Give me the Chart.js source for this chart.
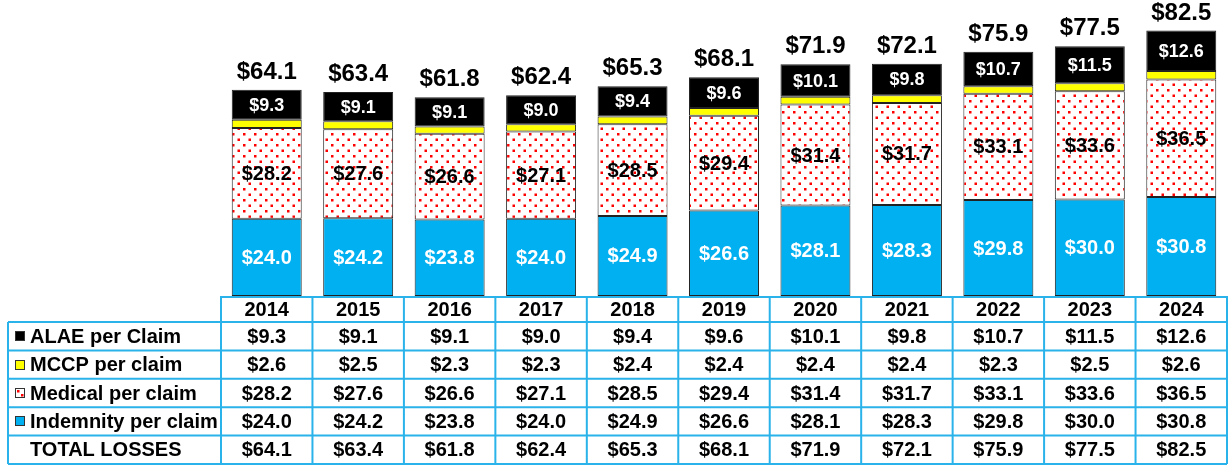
<!DOCTYPE html>
<html>
<head>
<meta charset="utf-8">
<script src="https://cdn.jsdelivr.net/npm/chart.js@4"></script>
<style>
  html, body { margin: 0; padding: 0; background: #fff; }
  #wrap { width: 1230px; height: 466px; }
</style>
</head>
<body>
<div id="wrap"><canvas id="chart" width="1230" height="466"></canvas></div>
<script>
// ===== DATA =====
const years = ["2014", "2015", "2016", "2017", "2018", "2019", "2020", "2021", "2022", "2023", "2024"];
const indemnity = [24.0, 24.2, 23.8, 24.0, 24.9, 26.6, 28.1, 28.3, 29.8, 30.0, 30.8];
const medical = [28.2, 27.6, 26.6, 27.1, 28.5, 29.4, 31.4, 31.7, 33.1, 33.6, 36.5];
const mccp = [2.6, 2.5, 2.3, 2.3, 2.4, 2.4, 2.4, 2.4, 2.3, 2.5, 2.6];
const alae = [9.3, 9.1, 9.1, 9.0, 9.4, 9.6, 10.1, 9.8, 10.7, 11.5, 12.6];
const totals = [64.1, 63.4, 61.8, 62.4, 65.3, 68.1, 71.9, 72.1, 75.9, 77.5, 82.5];

const FONT = '"Liberation Sans", Arial, sans-serif';
const BLUE = "#00b0f0";
const GRID = "#2ab3ea";

// ===== MEDICAL DOT PATTERN =====
function dotPattern() {
  const c = document.createElement("canvas");
  c.width = 11;
  c.height = 11;
  const g = c.getContext("2d");
  g.fillStyle = "#fff";
  g.fillRect(0, 0, 11, 11);
  g.fillStyle = "#ff0000";
  g.fillRect(1, 1, 2.5, 2.5);
  g.fillRect(6.5, 6.5, 2.5, 2.5);
  return g.createPattern(c, "repeat");
}

const fmt = v => "$" + v.toFixed(1);

// ===== LABELS ON BARS =====
const barLabels = {
  id: "barLabels",
  afterDatasetsDraw(chart) {
    const ctx = chart.ctx;
    ctx.save();
    ctx.textAlign = "center";
    ctx.textBaseline = "middle";
    chart.data.datasets.forEach((ds, i) => {
      if (!ds.labelColor) return;
      const meta = chart.getDatasetMeta(i);
      meta.data.forEach((bar, j) => {
        const mid = (bar.y + bar.base) / 2;
        ctx.font = "bold " + ds.labelSize + "px " + FONT;
        ctx.fillStyle = ds.labelColor;
        ctx.fillText(fmt(ds.data[j]), bar.x, mid + 1);
      });
    });
    // totals above the stack
    const top = chart.getDatasetMeta(chart.data.datasets.length - 1);
    ctx.font = "bold 24px " + FONT;
    ctx.fillStyle = "#000";
    ctx.textBaseline = "alphabetic";
    top.data.forEach((bar, j) => {
      ctx.fillText(fmt(totals[j]), bar.x, bar.y - 11);
    });
    ctx.restore();
  }
};

// ===== DATA TABLE UNDER THE CHART =====
const dataTable = {
  id: "dataTable",
  afterDraw(chart) {
    const ctx = chart.ctx;
    const xs = chart.scales.x;
    const left = xs.left, right = xs.right;
    const colW = (right - left) / years.length;
    const headTop = chart.chartArea.bottom;
    const headH = 26;
    const rowH = 28.4;
    const labelLeft = 8;

    const rows = [
      { name: "ALAE per Claim", vals: alae, marker: "#000" },
      { name: "MCCP per claim", vals: mccp, marker: "#ffff00" },
      { name: "Medical per claim", vals: medical, marker: "dots" },
      { name: "Indemnity per claim", vals: indemnity, marker: BLUE },
      { name: "TOTAL LOSSES", vals: totals, marker: null }
    ];
    const bodyTop = headTop + headH;
    const bottom = bodyTop + rowH * rows.length;

    ctx.save();
    ctx.strokeStyle = GRID;
    ctx.lineWidth = 2;
    ctx.beginPath();
    // header row lines
    ctx.moveTo(left, headTop + 1);
    ctx.lineTo(right, headTop + 1);
    for (let k = 0; k <= years.length; k++) {
      const x = left + k * colW;
      ctx.moveTo(x, headTop);
      ctx.lineTo(x, bottom);
    }
    // body horizontal lines
    for (let r = 0; r <= rows.length; r++) {
      const y = bodyTop + r * rowH;
      ctx.moveTo(labelLeft, y);
      ctx.lineTo(right, y);
    }
    ctx.moveTo(labelLeft, bodyTop);
    ctx.lineTo(labelLeft, bottom);
    ctx.stroke();

    ctx.fillStyle = "#000";
    ctx.font = "bold 20px " + FONT;
    ctx.textBaseline = "middle";
    ctx.textAlign = "center";
    years.forEach((y, k) => {
      ctx.fillText(y, left + (k + 0.5) * colW, headTop + headH / 2 + 1);
    });

    rows.forEach((row, r) => {
      const cy = bodyTop + (r + 0.5) * rowH + 1;
      ctx.textAlign = "center";
      ctx.fillStyle = "#000";
      row.vals.forEach((v, k) => {
        ctx.fillText(fmt(v), left + (k + 0.5) * colW, cy);
      });
      // legend marker
      if (row.marker) {
        const mx = 15, my = Math.round(cy - 6), ms = 10;
        ctx.fillStyle = row.marker === "dots" ? "#fff" : row.marker;
        ctx.fillRect(mx, my, ms, ms);
        if (row.marker === "dots") {
          ctx.fillStyle = "#ff0000";
          ctx.fillRect(mx + 2, my + 2, 2.5, 2.5);
          ctx.fillRect(mx + 6, my + 6, 2.5, 2.5);
        }
        ctx.strokeStyle = "#333";
        ctx.lineWidth = 1;
        ctx.strokeRect(mx + 0.5, my + 0.5, ms - 1, ms - 1);
      }
      ctx.textAlign = "left";
      ctx.fillStyle = "#000";
      ctx.fillText(row.name, 30, cy);
    });
    ctx.restore();
  }
};

// ===== CHART =====
new Chart(document.getElementById("chart"), {
  type: "bar",
  data: {
    labels: years,
    datasets: [
      { label: "Indemnity per claim", data: indemnity, backgroundColor: BLUE, labelColor: "#fff", labelSize: 20 },
      { label: "Medical per claim", data: medical, backgroundColor: dotPattern(), labelColor: "#000", labelSize: 20 },
      { label: "MCCP per claim", data: mccp, backgroundColor: "#ffff00" },
      { label: "ALAE per Claim", data: alae, backgroundColor: "#000", labelColor: "#fff", labelSize: 18 }
    ].map(ds => Object.assign({
      borderColor: "#222",
      borderWidth: 1,
      borderSkipped: false,
      categoryPercentage: 1,
      barPercentage: 0.765
    }, ds))
  },
  options: {
    responsive: false,
    devicePixelRatio: 1,
    animation: false,
    layout: { padding: { left: 221, right: 3, top: 0, bottom: 170 } },
    plugins: { legend: { display: false }, tooltip: { enabled: false } },
    scales: {
      x: { stacked: true, display: false },
      y: { stacked: true, display: false, min: 0, max: 92 }
    }
  },
  plugins: [barLabels, dataTable]
});
</script>
</body>
</html>
